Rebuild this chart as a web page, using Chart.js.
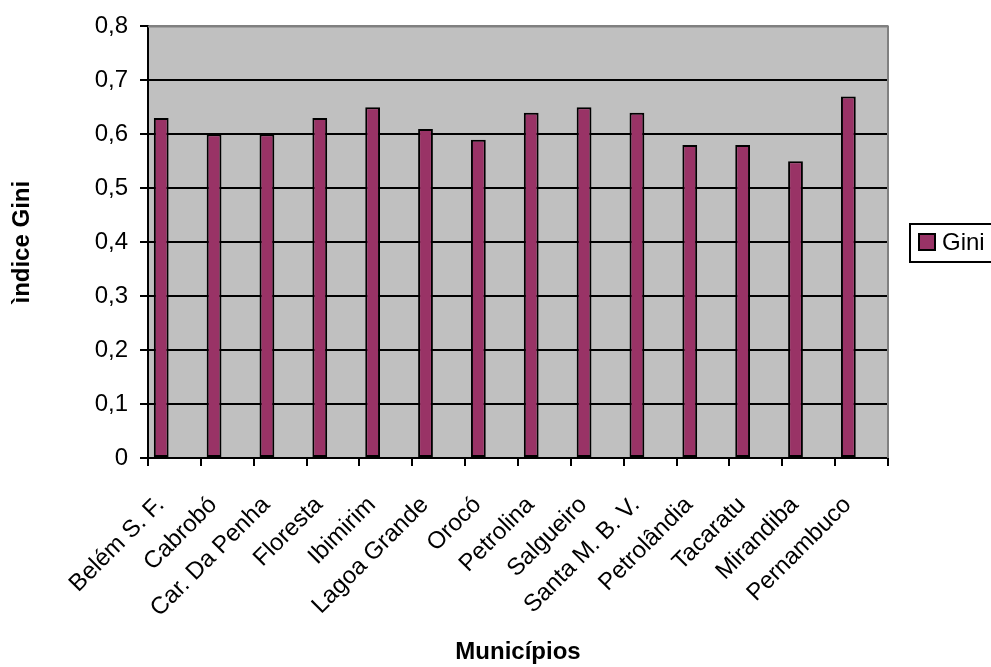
<!DOCTYPE html>
<html>
<head>
<meta charset="utf-8">
<script src="https://cdn.jsdelivr.net/npm/chart.js@4/dist/chart.umd.min.js"></script>
<style>
  html, body { margin: 0; padding: 0; background: #fff; }
  #wrap { width: 991px; height: 667px; }
</style>
</head>
<body>
<div id="wrap"><canvas id="giniChart" width="991" height="667"></canvas></div>
<script>
// Índice de Gini por município
const municipios = ['Belém S. F.', 'Cabrobó', 'Car. Da Penha', 'Floresta', 'Ibimirim', 'Lagoa Grande', 'Orocó',
    'Petrolina', 'Salgueiro', 'Santa M. B. V.', 'Petrolândia', 'Tacaratu', 'Mirandiba', 'Pernambuco'];
const giniValues = [0.63, 0.60, 0.60, 0.63, 0.65, 0.61, 0.59, 0.64, 0.65, 0.64, 0.58, 0.58, 0.55, 0.67];
const yTickLabels = ['0', '0,1', '0,2', '0,3', '0,4', '0,5', '0,6', '0,7', '0,8'];
const seriesLabel = 'Gini';

const FONT = 'Liberation Sans, Arial, sans-serif';

// gray plot area + excel-like legend box
const plotArea = {
    id: 'plotArea',
    beforeDraw(chart) {
        const a = chart.chartArea;
        const ctx = chart.ctx;
        ctx.save();
        ctx.fillStyle = '#c0c0c0';
        ctx.fillRect(a.left, a.top, a.right - a.left, a.bottom - a.top);
        ctx.restore();
    },
    afterDraw(chart) {
        const a = chart.chartArea;
        const ctx = chart.ctx;
        ctx.save();
        ctx.strokeStyle = '#808080';
        ctx.lineWidth = 2;
        ctx.beginPath();
        ctx.moveTo(a.left, a.top);
        ctx.lineTo(a.right, a.top);
        ctx.lineTo(a.right, a.bottom);
        ctx.stroke();

        // legend
        ctx.strokeStyle = '#000';
        ctx.lineWidth = 2;
        ctx.strokeRect(910, 224, 100, 38);
        ctx.fillStyle = '#993366';
        ctx.fillRect(919, 234, 16, 16);
        ctx.strokeRect(919, 234, 16, 16);
        ctx.fillStyle = '#000';
        ctx.font = '24px ' + FONT;
        ctx.textBaseline = 'middle';
        ctx.fillText(chart.data.datasets[0].label, 942, 243);
        ctx.restore();
    }
};

new Chart(document.getElementById('giniChart'), {
    type: 'bar',
    data: {
        labels: municipios,
        datasets: [{
            label: seriesLabel,
            data: giniValues,
            backgroundColor: '#993366',
            borderColor: '#000',
            borderWidth: 2,
            borderSkipped: false,
            categoryPercentage: 1,
            barPercentage: 0.56
        }, {
            // empty slot, the excel chart leaves room for a second series
            label: '',
            data: [],
            categoryPercentage: 1,
            barPercentage: 0.56
        }]
    },
    options: {
        responsive: false,
        animation: false,
        layout: { padding: { top: 26, right: 103, left: 0, bottom: 0 } },
        plugins: {
            legend: { display: false },
            tooltip: { enabled: false }
        },
        scales: {
            x: {
                afterFit: s => { s.height = 209; },
                grid: { drawOnChartArea: false, color: '#000', lineWidth: 2, tickLength: 8, offset: true },
                border: { color: '#000', width: 2 },
                ticks: {
                    color: '#000', font: { family: FONT, size: 24 },
                    minRotation: 45, maxRotation: 45, padding: 25, labelOffset: -14, autoSkip: false
                },
                title: {
                    display: true, text: 'Municípios', color: '#000',
                    font: { family: FONT, size: 24, weight: 'bold' }, padding: { top: 4, bottom: 0 }
                }
            },
            y: {
                min: 0, max: 0.8,
                afterFit: s => { s.width = 148; },
                grid: {
                    color: c => (c.tick && c.tick.value >= 0.8 ? '#808080' : '#000'),
                    tickColor: '#000', lineWidth: 2, tickLength: 8
                },
                border: { color: '#000', width: 2 },
                ticks: {
                    stepSize: 0.1, color: '#000', padding: 12,
                    font: { family: FONT, size: 24 },
                    callback: (v, i) => yTickLabels[i]
                },
                title: {
                    display: true, text: 'ìndice Gini', color: '#000',
                    font: { family: FONT, size: 24, weight: 'bold' }, padding: { top: 8, bottom: 4 }
                }
            }
        }
    },
    plugins: [plotArea]
});
</script>
</body>
</html>
